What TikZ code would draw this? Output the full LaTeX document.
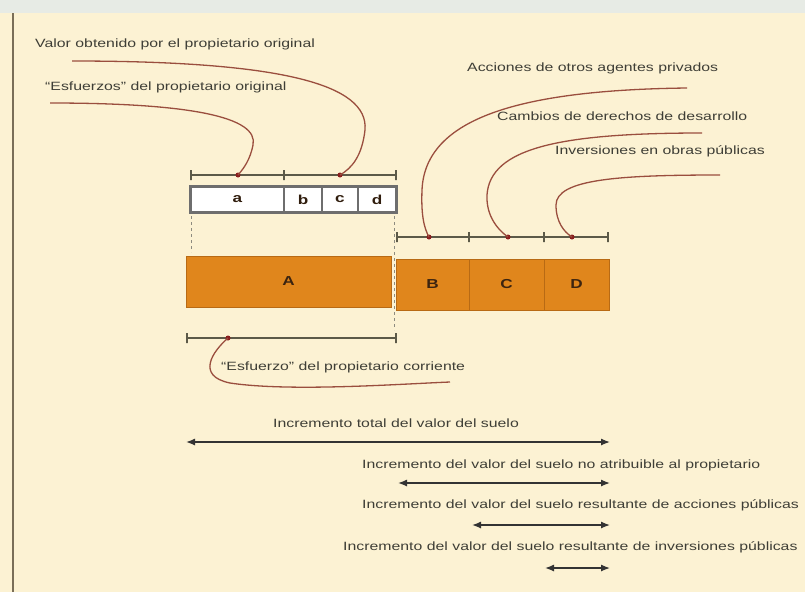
\documentclass[tikz,border=0pt]{standalone}
\usepackage{fontspec}
\setmainfont{Liberation Sans}[FakeStretch=1.32]
\usetikzlibrary{arrows.meta}
\definecolor{bg}{HTML}{FCF2D3}
\definecolor{strip}{HTML}{E7EBE5}
\definecolor{frame}{HTML}{7A6E58}
\definecolor{curve}{HTML}{9A4E3E}
\definecolor{tick}{HTML}{5C5A48}
\definecolor{dotc}{HTML}{8A1E1E}
\definecolor{txt}{HTML}{3E3E36}
\definecolor{orng}{HTML}{E0861C}
\definecolor{orngd}{HTML}{B86A14}
\definecolor{lbl}{HTML}{3C2410}
\definecolor{cellb}{HTML}{6E6E6E}
\begin{document}
\begin{tikzpicture}[x=1pt,y=-1pt,
  lbltext/.style={font=\fontsize{12}{14}\selectfont, text=txt, anchor=west, inner sep=0pt},
  callout/.style={draw=curve, line width=1.3pt},
  ruler/.style={draw=tick, line width=1.2pt},
  tickn/.style={draw=tick, line width=1.2pt, inner sep=0pt, minimum width=0pt, minimum height=10pt},
  dotn/.style={circle, fill=dotc, inner sep=0pt, minimum size=5pt},
  bar/.style={draw=orngd, fill=orng, line width=1pt, inner sep=0pt, minimum height=51pt,
              font=\bfseries\fontsize{13}{15}\selectfont, text=lbl},
  cell/.style={draw=cellb, fill=white, line width=1.4pt, inner sep=0pt, minimum height=25pt,
              font=\bfseries\fontsize{13}{15}\selectfont, text=lbl!80!black},
  guide/.style={draw=tick!70, line width=1pt, dashed, dash pattern=on 3pt off 3pt},
  arr/.style={draw=black!80, line width=1.3pt, {Latex[length=9pt,width=7pt]}-{Latex[length=9pt,width=7pt]}}
]
\useasboundingbox (0,0) rectangle (805,592);
\fill[bg] (0,0) rectangle (805,592);
\fill[strip] (0,0) rectangle (805,13);
\draw[frame, line width=2.5pt] (13,13) -- (13,592);

% upper ruler and white cells
\node[cell, minimum width=93pt] (ca) at (237.5,199.5) {a};
\node[cell, minimum width=38pt] (cb) at (303,199.5) {b};
\node[cell, minimum width=36pt] (cc) at (340,199.5) {c};
\node[cell, minimum width=38pt] (cd) at (377,199.5) {d};
\draw[cellb, line width=3pt] (ca.north west) rectangle (cd.south east);

\coordinate (r1a) at (191,175);
\coordinate (r1b) at (396,175);
\draw[ruler] (r1a) -- (r1b);
\node[tickn] (k1) at (191,175) {};
\node[tickn] (k2) at (284,175) {};
\node[tickn] (k3) at (396,175) {};
\node[dotn] (d1) at (238,175) {};
\node[dotn] (d2) at (340,175) {};

% guides
\coordinate (g1a) at (191,216);
\coordinate (g1b) at (191,252);
\coordinate (g2a) at (394,216);
\coordinate (g2b) at (394,330);
\draw[guide] (g1a) -- (g1b);
\draw[guide] (g2a) -- (g2b);

% orange bars
\node[bar, minimum width=205pt] (A) at (288.5,281.5) {A};
\node[bar, minimum width=73pt] (B) at (432.5,284.5) {B};
\node[bar, minimum width=75pt] (C) at (506.5,284.5) {C};
\node[bar, minimum width=65pt] (D) at (576.5,284.5) {D};

% right ruler
\coordinate (r2a) at (397,237);
\coordinate (r2b) at (608,237);
\draw[ruler] (r2a) -- (r2b);
\node[tickn] (k4) at (397,237) {};
\node[tickn] (k5) at (469,237) {};
\node[tickn] (k6) at (544,237) {};
\node[tickn] (k7) at (608,237) {};
\node[dotn] (d3) at (429,237) {};
\node[dotn] (d4) at (508,237) {};
\node[dotn] (d5) at (572,237) {};

% lower ruler
\coordinate (r3a) at (187,338);
\coordinate (r3b) at (396,338);
\draw[ruler] (r3a) -- (r3b);
\node[tickn] (k8) at (187,338) {};
\node[tickn] (k9) at (396,338) {};
\node[dotn] (d6) at (228,338) {};

% labels
\node[lbltext] (t1) at (35,44) {Valor obtenido por el propietario original};
\node[lbltext] (t2) at (45,87) {``Esfuerzos'' del propietario original};
\node[lbltext] (t3) at (467,68) {Acciones de otros agentes privados};
\node[lbltext] (t4) at (497,116) {Cambios de derechos de desarrollo};
\node[lbltext] (t5) at (555,151) {Inversiones en obras públicas};
\node[lbltext] (t6) at (221,367) {``Esfuerzo'' del propietario corriente};

% callout curves
\coordinate (s1) at (72,61);
\coordinate (s2) at (50,103);
\coordinate (s3) at (687,88);
\coordinate (s4) at (702,133);
\coordinate (s5) at (720,175);
\coordinate (s6) at (450,382);
\draw[callout] (s1) .. controls (280,61) and (369,84) .. (365,130) .. controls (362,156) and (352,168) .. (d2.center);
\draw[callout] (s2) .. controls (190,103) and (259,117) .. (253,145) .. controls (250,160) and (244,168) .. (d1.center);
\draw[callout] (s3) .. controls (520,90) and (425,118) .. (422,190) .. controls (421,215) and (424,228) .. (d3.center);
\draw[callout] (s4) .. controls (560,133) and (490,148) .. (487,195) .. controls (486,216) and (498,230) .. (d4.center);
\draw[callout] (s5) .. controls (620,175) and (556,179) .. (556,205) .. controls (556,222) and (564,232) .. (d5.center);
\draw[callout] (d6.center) .. controls (212,352) and (196,376) .. (230,383) .. controls (290,392) and (400,384) .. (s6);

% bottom increments
\node[lbltext] (i1) at (273,423) {Incremento total del valor del suelo};
\node[lbltext] (i2) at (362,465) {Incremento del valor del suelo no atribuible al propietario};
\node[lbltext] (i3) at (362,505) {Incremento del valor del suelo resultante de acciones públicas};
\node[lbltext] (i4) at (343,547) {Incremento del valor del suelo resultante de inversiones públicas};

\coordinate (a1l) at (186,442);
\coordinate (a1r) at (610,442);
\coordinate (a2l) at (398,483);
\coordinate (a2r) at (610,483);
\coordinate (a3l) at (472,525);
\coordinate (a3r) at (610,525);
\coordinate (a4l) at (545,568);
\coordinate (a4r) at (610,568);
\draw[arr] (a1l) -- (a1r);
\draw[arr] (a2l) -- (a2r);
\draw[arr] (a3l) -- (a3r);
\draw[arr] (a4l) -- (a4r);
\end{tikzpicture}
\end{document}
